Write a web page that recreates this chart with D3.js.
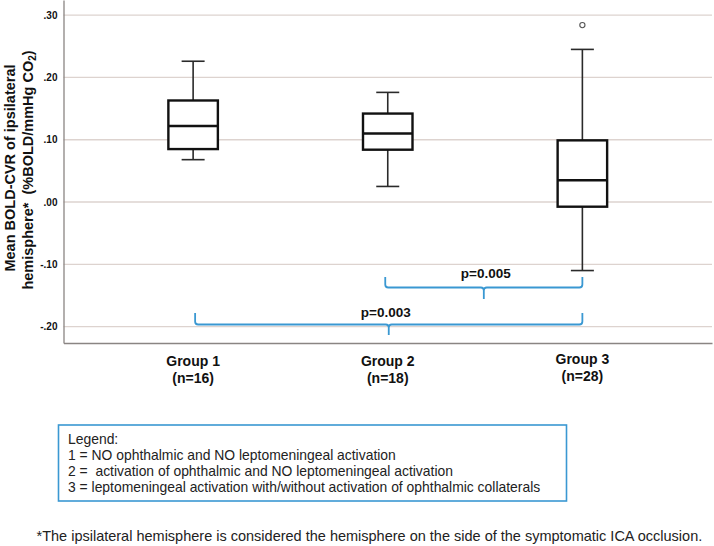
<!DOCTYPE html>
<html><head><meta charset="utf-8">
<script src="https://cdn.jsdelivr.net/npm/d3@7"></script>
<style>body{margin:0;background:#fff;} svg{display:block;font-family:"Liberation Sans",Arial,sans-serif;}</style>
</head><body>
<svg id="c" width="714" height="546"></svg>
<script>
const groups = ["Group 1", "Group 2", "Group 3"];
const groupN = ["(n=16)", "(n=18)", "(n=28)"];
const whiskerLow = [0.068, 0.025, -0.110];
const q1 = [0.085, 0.084, -0.0075];
const median = [0.122, 0.110, 0.035];
const q3 = [0.163, 0.142, 0.099];
const whiskerHigh = [0.226, 0.176, 0.245];
const outliers = [[], [], [0.284]];
const yTicks = [-0.2, -0.1, 0, 0.1, 0.2, 0.3];
const yTickLabels = ["-.20", "-.10", ".00", ".10", ".20", ".30"];
const comparisons = [
  {from: 1, to: 2, label: "p=0.005"},
  {from: 0, to: 2, label: "p=0.003"}
];
const legendLines = [
  "Legend:",
  "1 = NO ophthalmic and NO leptomeningeal activation",
  "2 =  activation of ophthalmic and NO leptomeningeal activation",
  "3 = leptomeningeal activation with/without activation of ophthalmic collaterals"
];
const footnote = "*The ipsilateral hemisphere is considered the hemisphere on the side of the symptomatic ICA occlusion.";

(function () {
const svg = d3.select("#c");
const pLeft = 63.5, pRight = 712, pTop = 0, pBottom = 343;
const y = d3.scaleLinear().domain([-0.2263, 0.3243]).range([pBottom, pTop]);
const x = d3.scalePoint().domain(groups).range([pLeft, pRight]).padding(0.666);
const blue = "#3a98d2";

// gridlines
svg.append("g").selectAll("line").data(yTicks).join("line")
  .attr("x1", pLeft).attr("x2", pRight)
  .attr("y1", d => y(d)).attr("y2", d => y(d))
  .attr("stroke", "#ddd3cf").attr("stroke-width", 1.3);

// y axis
const yAxis = d3.axisLeft(y).tickValues(yTicks).tickSize(0).tickPadding(6)
  .tickFormat((d, i) => yTickLabels[i]);
const gy = svg.append("g").attr("transform", `translate(${pLeft},0)`).call(yAxis);
gy.select(".domain").attr("stroke", "#8a8583").attr("stroke-width", 1.3);
gy.selectAll("text").attr("font-size", 10).attr("font-weight", "bold").attr("fill", "#111");

// x axis
const xAxis = d3.axisBottom(x).tickSize(0).tickFormat("");
const gx = svg.append("g").attr("transform", `translate(0,${pBottom})`).call(xAxis);
gx.select(".domain").attr("stroke", "#8a8583").attr("stroke-width", 1.5);

// group labels
groups.forEach((g, i) => {
  const off = i === 2 ? -2 : 0;
  svg.append("text").attr("x", x(g)).attr("y", 366 + off).attr("text-anchor", "middle")
    .attr("font-size", 14).attr("font-weight", "bold").attr("fill", "#111").text(g);
  svg.append("text").attr("x", x(g)).attr("y", 383 + off).attr("text-anchor", "middle")
    .attr("font-size", 14).attr("font-weight", "bold").attr("fill", "#111").text(groupN[i]);
});

// y title
svg.append("text").attr("transform", "translate(15,168) rotate(-90)")
  .attr("text-anchor", "middle").attr("font-size", 14.5).attr("font-weight", "bold").attr("fill", "#111")
  .text("Mean BOLD-CVR of ipsilateral");
const yt2 = svg.append("text").attr("transform", "translate(33,170) rotate(-90)")
  .attr("text-anchor", "middle").attr("font-size", 14.5).attr("font-weight", "bold").attr("fill", "#111")
  .attr("xml:space", "preserve");
yt2.append("tspan").text("hemisphere*  (%BOLD/mmHg CO");
yt2.append("tspan").attr("font-size", 10).attr("dy", 3).text("2");
yt2.append("tspan").attr("dy", -3).text(")");

// boxes
const boxW = 49.5, capW = 23;
const bx = svg.append("g");
groups.forEach((g, i) => {
  const cx = x(g);
  const gg = bx.append("g");
  gg.append("line").attr("x1", cx).attr("x2", cx).attr("y1", y(whiskerHigh[i])).attr("y2", y(q3[i]))
    .attr("stroke", "#2a2a2a").attr("stroke-width", 1.6);
  gg.append("line").attr("x1", cx).attr("x2", cx).attr("y1", y(q1[i])).attr("y2", y(whiskerLow[i]))
    .attr("stroke", "#2a2a2a").attr("stroke-width", 1.6);
  [whiskerHigh[i], whiskerLow[i]].forEach(v => {
    gg.append("line").attr("x1", cx - capW / 2).attr("x2", cx + capW / 2).attr("y1", y(v)).attr("y2", y(v))
      .attr("stroke", "#2a2a2a").attr("stroke-width", 1.6);
  });
  gg.append("rect").attr("x", cx - boxW / 2).attr("width", boxW)
    .attr("y", y(q3[i])).attr("height", y(q1[i]) - y(q3[i]))
    .attr("fill", "#fff").attr("stroke", "#111").attr("stroke-width", 2.4);
  gg.append("line").attr("x1", cx - boxW / 2).attr("x2", cx + boxW / 2).attr("y1", y(median[i])).attr("y2", y(median[i]))
    .attr("stroke", "#111").attr("stroke-width", 2.4);
  outliers[i].forEach(v => {
    gg.append("circle").attr("cx", cx).attr("cy", y(v)).attr("r", 2.6)
      .attr("fill", "none").attr("stroke", "#555").attr("stroke-width", 1.1);
  });
});

// comparison brackets
const bracketY = [[277, 287.5, 299, 278], [313, 324.5, 335, 317]];
comparisons.forEach((c, k) => {
  const x0 = x(groups[c.from]) + (c.from === 1 ? -2.5 : 2), x1 = x(groups[c.to]);
  const [yt0, yh, ytip, ylab] = bracketY[k];
  const xm = (x0 + x1) / 2, r = 3;
  const p = d3.path();
  p.moveTo(x0, yt0);
  p.lineTo(x0, yh - r);
  p.quadraticCurveTo(x0, yh, x0 + r, yh);
  p.lineTo(xm - r, yh);
  p.quadraticCurveTo(xm, yh, xm, yh + r);
  p.lineTo(xm, ytip);
  p.moveTo(xm, yh + r);
  p.quadraticCurveTo(xm, yh, xm + r, yh);
  p.lineTo(x1 - r, yh);
  p.quadraticCurveTo(x1, yh, x1, yh - r);
  p.lineTo(x1, yt0);
  svg.append("path").attr("d", p.toString()).attr("fill", "none")
    .attr("stroke", blue).attr("stroke-width", 1.8);
  svg.append("text").attr("x", xm + (k === 0 ? 2 : -3)).attr("y", ylab).attr("text-anchor", "middle")
    .attr("font-size", 13.5).attr("font-weight", "bold").attr("fill", "#111").text(c.label);
});

// legend box
svg.append("rect").attr("x", 58.5).attr("y", 425).attr("width", 508).attr("height", 76)
  .attr("fill", "#fff").attr("stroke", blue).attr("stroke-width", 1.6);
legendLines.forEach((t, i) => {
  svg.append("text").attr("x", 68).attr("y", 443.5 + i * 16).attr("font-size", 13.9)
    .attr("fill", "#222").attr("xml:space", "preserve").text(t);
});

// footnote
svg.append("text").attr("x", 36.5).attr("y", 541).attr("font-size", 14.5).attr("fill", "#222")
  .text(footnote);
})();
</script>
</body></html>
